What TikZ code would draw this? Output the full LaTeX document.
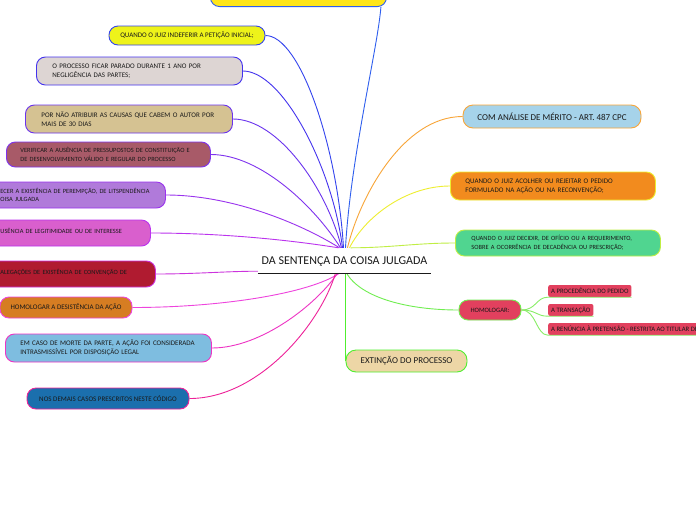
\documentclass[tikz,border=0pt]{standalone}
\usepackage{fontspec}
\setmainfont{Carlito}
\pgfdeclarelayer{back}
\pgfdeclarelayer{bg}
\pgfsetlayers{back,bg,main}
\definecolor{ytop}{HTML}{FFE61A}
\definecolor{btop}{HTML}{2F5FEE}
\definecolor{fA}{HTML}{EEF31A}\definecolor{dA}{HTML}{3344EE}
\definecolor{fB}{HTML}{DDD5D3}\definecolor{dB}{HTML}{4433EE}
\definecolor{fC}{HTML}{D5C292}\definecolor{dC}{HTML}{6A33EE}
\definecolor{fD}{HTML}{A85A68}\definecolor{dD}{HTML}{7F33EE}
\definecolor{fE}{HTML}{B07ADA}\definecolor{dE}{HTML}{9A33EE}
\definecolor{fF}{HTML}{D95FCD}\definecolor{dF}{HTML}{BB33EE}
\definecolor{fG}{HTML}{B01B30}\definecolor{dG}{HTML}{CC33DD}
\definecolor{fH}{HTML}{D67D22}\definecolor{dH}{HTML}{EE44DD}
\definecolor{fI}{HTML}{7EBDE0}\definecolor{dI}{HTML}{EE33C4}
\definecolor{fJ}{HTML}{1B6FAD}\definecolor{dJ}{HTML}{EE2299}
\definecolor{fR}{HTML}{A6D3EA}\definecolor{dR}{HTML}{F8A538}
\definecolor{fS}{HTML}{F28B1E}\definecolor{dS}{HTML}{EEEE30}
\definecolor{fT}{HTML}{50D590}\definecolor{dT}{HTML}{C0EE44}
\definecolor{fU}{HTML}{E2405E}\definecolor{dU}{HTML}{70EE50}
\definecolor{hl}{HTML}{88EE66}
\definecolor{fV}{HTML}{EDD6A6}\definecolor{dV}{HTML}{50EE30}
\definecolor{ink}{HTML}{1A1A1A}
\begin{document}
\begin{tikzpicture}[x=1pt,y=-1pt,
  box/.style={rounded corners=9pt, line width=0.9pt, inner ysep=0pt, text=ink, font=\fontsize{7}{9}\selectfont},
  smallbox/.style={box, font=\fontsize{6.4}{8.6}\selectfont},
  bigbox/.style={box, rounded corners=10pt, font=\fontsize{9}{11}\selectfont},
  kid/.style={fill=fU, rounded corners=2pt, minimum height=12pt, inner xsep=3pt, inner ysep=0pt, anchor=west, text=ink, font=\fontsize{6.7}{9}\selectfont},
  link/.style={line width=0.9pt},
]
\begin{pgfonlayer}{back}
\fill[white] (0,0) rectangle (696,520);
\end{pgfonlayer}
\useasboundingbox (0,0) rectangle (696,520);

% central topic
\node[font=\fontsize{12}{14}\selectfont, text=ink, text height=8pt, text depth=0pt, inner ysep=8.5pt, inner xsep=0pt, minimum width=173pt] (center) at (344.5,260.5) {DA SENTENÇA DA COISA JULGADA};
\draw[line width=1.1pt, ink] (center.south west) -- (center.south east);

% left topics
\node[box, fill=ytop, draw=btop, minimum width=176pt, minimum height=30pt, anchor=south west] (top) at (210,7) {};
\node[box, fill=fA, draw=dA, minimum width=156pt, minimum height=19pt] (n1) at (187,35.5) {QUANDO O JUIZ INDEFERIR A PETIÇÃO INICIAL;};
\node[box, fill=fB, draw=dB, minimum height=28pt, anchor=west, text width=174pt, inner xsep=16pt, align=left] (n2) at (36,71) {O PROCESSO FICAR PARADO DURANTE 1 ANO POR\\NEGLIGÊNCIA DAS PARTES;};
\node[box, fill=fC, draw=dC, minimum height=28pt, anchor=west, text width=175pt, inner xsep=16pt, align=left] (n3) at (25,119) {POR NÃO ATRIBUIR AS CAUSAS QUE CABEM O AUTOR POR\\MAIS DE 30 DIAS};
\node[smallbox, fill=fD, draw=dD, minimum height=25pt, anchor=west, text width=176pt, inner xsep=14pt, align=left] (n4) at (6,154.5) {VERIFICAR A AUSÊNCIA DE PRESSUPOSTOS DE CONSTITUIÇÃO E\\DE DESENVOLVIMENTO VÁLIDO E REGULAR DO PROCESSO};
\node[smallbox, fill=fE, draw=dE, minimum height=26pt, anchor=west, text width=153pt, inner xsep=12pt, align=left] (n5) at (-12,195) {\leavevmode\llap{RECONH}ECER A EXISTÊNCIA DE PEREMPÇÃO, DE LITSPENDÊNCIA\\\leavevmode\llap{OU DE C}OISA JULGADA};
\node[smallbox, fill=fF, draw=dF, minimum height=26pt, anchor=west, text width=138pt, inner xsep=12pt, align=left, text depth=4pt] (n6) at (-12,233) {\leavevmode\llap{VERIFICAR A A}USÊNCIA DE LEGITIMIDADE OU DE INTERESSE};
\node[smallbox, fill=fG, draw=dG, minimum height=26pt, anchor=west, text width=143pt, inner xsep=12pt, align=left, text depth=4pt] (n7) at (-12,274) {ALEGAÇÕES DE EXISTÊNCIA DE CONVENÇÃO DE};
\node[box, fill=fH, draw=dH, minimum width=132pt, minimum height=21pt] (n8) at (66,307.5) {HOMOLOGAR A DESISTÊNCIA DA AÇÃO};
\node[box, fill=fI, draw=dI, minimum height=28pt, anchor=west, text width=176pt, inner xsep=15pt, align=left] (n9) at (5,348) {EM CASO DE MORTE DA PARTE, A AÇÃO FOI CONSIDERADA\\INTRASMISSÍVEL POR DISPOSIÇÃO LEGAL};
\node[box, fill=fJ, draw=dJ, minimum width=162pt, minimum height=21pt] (n10) at (108,398.5) {NOS DEMAIS CASOS PRESCRITOS NESTE CÓDIGO};

% right topics
\node[bigbox, fill=fR, draw=dR, minimum width=178pt, minimum height=23pt] (r1) at (552,116.5) {COM ANÁLISE DE MÉRITO - ART. 487 CPC};
\node[box, fill=fS, draw=dS, minimum height=28pt, anchor=west, text width=175pt, inner xsep=15pt, align=left] (r2) at (450,186) {QUANDO O JUIZ ACOLHER OU REJEITAR O PEDIDO\\FORMULADO NA AÇÃO OU NA RECONVENÇÃO;};
\node[smallbox, fill=fT, draw=dT, minimum height=26pt, anchor=west, text width=173pt, inner xsep=16pt, align=left] (r3) at (455,243) {QUANDO O JUIZ DECIDIR, DE OFÍCIO OU A REQUERIMENTO,\\SOBRE A OCORRÊNCIA DE DECADÊNCIA OU PRESCRIÇÃO;};
\node[box, fill=fU, draw=dU, minimum width=62pt, minimum height=20pt, font=\fontsize{6.6}{8}\selectfont] (hom) at (490,310) {HOMOLOGAR:};
\node[kid] (k1) at (548,291) {A PROCEDÊNCIA DO PEDIDO};
\node[kid] (k2) at (548,310) {A TRANSAÇÃO};
\node[kid] (k3) at (548,329) {A RENÚNCIA À PRETENSÃO - RESTRITA AO TITULAR DE DIREITO};
\node[bigbox, fill=fV, draw=dV, minimum width=121pt, minimum height=22pt] (ext) at (406.5,361) {EXTINÇÃO DO PROCESSO};

\begin{pgfonlayer}{bg}
\draw[link, btop] ([xshift=-6pt]top.south east) .. controls +(-3,40) and +(5,-90) .. ([xshift=1pt]center.north);
\draw[link, dA] (n1.east) .. controls +(35,0) and +(-6,-100) .. ([xshift=-1pt]center.north);
\draw[link, dB] (n2.east) .. controls +(40,0) and +(-10,-80) .. ([xshift=-2pt]center.north);
\draw[link, dC] (n3.east) .. controls +(45,0) and +(-15,-60) .. ([xshift=-3pt]center.north);
\draw[link, dD] (n4.east) .. controls +(50,0) and +(-25,-40) .. ([xshift=-4pt]center.north);
\draw[link, dE] (n5.east) .. controls +(65,0) and +(-40,-25) .. ([xshift=-5pt]center.north);
\draw[link, dF] (n6.east) .. controls +(70,0) and +(-50,-8) .. ([xshift=-6pt]center.north);
\draw[link, dG] (n7.east) .. controls +(40,0) and +(-30,0) .. ([yshift=2pt]center.south west);
\draw[link, dH] (n8.east) .. controls +(90,0) and +(-30,20) .. ([xshift=-5pt]center.south);
\draw[link, dI] (n9.east) .. controls +(50,0) and +(-20,30) .. ([xshift=-7pt]center.south);
\draw[link, dJ] (n10.east) .. controls +(70,0) and +(-15,50) .. ([xshift=-9pt]center.south);
\draw[link, dR] (r1.west) .. controls +(-60,0) and +(12,-50) .. ([xshift=3pt]center.north);
\draw[link, dS] (r2.west) .. controls +(-45,0) and +(15,-30) .. ([xshift=5pt]center.north);
\draw[link, dT] (r3.west) .. controls +(-40,0) and +(40,0) .. ([xshift=6pt]center.north);
\draw[link, dU] (hom.west) .. controls +(-50,0) and +(15,25) .. ([xshift=2pt]center.south);
\draw[link, dV] ([xshift=1pt]center.south) -- (ext.west);
\end{pgfonlayer}

\draw[link, hl] (hom.east) .. controls +(15,0) and +(-12,0) .. (k1.south west) -- (k1.south east);
\draw[link, hl] (hom.east) .. controls +(15,0) and +(-12,0) .. (k2.south west) -- (k2.south east);
\draw[link, hl] (hom.east) .. controls +(15,0) and +(-12,0) .. (k3.south west) -- (k3.south east);
\end{tikzpicture}
\end{document}
